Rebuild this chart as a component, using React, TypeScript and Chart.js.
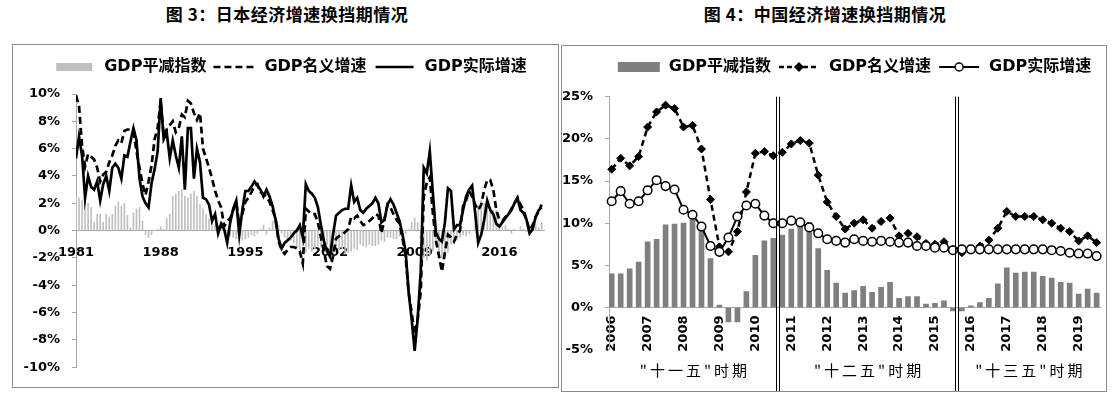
import React, { useEffect, useRef } from 'react';
import { Chart, registerables } from 'chart.js';

Chart.register(...registerables);

// ---------- Japan: quarterly, 1981Q1 .. 2019Q3 (%, YoY) ----------
const jpDeflator = [
  2.5, 2.4, 2.2, 2.1, 2.0, 1.7, 0.6, 1.2, 1.2, 0.6, 1.2, 1.0, 1.2, 1.8, 2.1, 1.8,
  2.0, 1.1, 0.2, 1.3, 1.6, 1.7, 0.7, -0.3, -0.5, -0.3, 0.0, 0.1, 0.3, 0.1, 0.9, 1.2,
  2.5, 2.7, 2.9, 3.0, 2.5, 2.4, 2.7, 2.9, 2.5, 1.9, 1.6, 1.2, 0.9, 0.6, 0.4, 0.4,
  0.3, 0.1, -0.2, -0.4, -0.5, -0.6, -0.4, -0.7, -0.6, -0.5, -0.3, -0.4, -0.2, 0.1, 0.4, -0.3,
  0.2, 0.7, 1.0, 0.4, -0.2, -0.5, -0.6, -0.7, -0.9, -1.2, -1.4, -1.1, -1.6, -1.3, -1.5, -1.3,
  -1.1, -1.2, -1.2, -1.0, -1.5, -1.6, -1.2, -1.4, -1.3, -1.7, -1.6, -1.5, -1.3, -1.4, -1.0, -1.1,
  -1.2, -1.0, -1.1, -1.1, -1.0, -0.7, -0.8, -0.5, -0.5, -0.6, -0.6, -0.4, -0.4, -0.2, 0.1, 0.6,
  0.9, 0.6, -0.6, -2.0, -2.2, -1.8, -1.5, -0.7, -2.0, -2.0, -1.9, -1.6, -1.0, -0.9, -0.7, -0.5,
  -0.3, -0.4, -0.2, 0.0, 0.5, 1.8, 2.2, 2.0, 2.2, 1.6, 1.5, 1.5, 0.4, 0.3, 0.4, 0.1,
  -0.2, 0.1, 0.0, 0.3, 0.1, -0.1, 0.1, 0.3, 0.5, 0.2, 0.6,
];
const jpNominal = [
  9.9, 9.1, 6.2, 4.7, 5.6, 5.4, 5.2, 4.6, 3.6, 4.1, 4.3, 5.0, 5.5, 6.2, 6.6, 6.4,
  7.3, 7.4, 7.4, 7.3, 5.8, 4.6, 3.4, 2.6, 3.6, 4.8, 6.7, 7.5, 9.5, 6.9, 7.4, 7.7,
  8.0, 7.2, 7.5, 8.5, 8.3, 9.5, 9.3, 8.6, 8.1, 8.6, 6.0, 5.3, 4.6, 3.8, 2.9, 2.2,
  1.7, 0.3, 0.7, 0.9, 1.5, 2.1, 0.4, 1.2, 2.1, 2.4, 2.8, 3.3, 3.4, 2.8, 2.7, 2.5,
  2.1, 1.5, 0.9, -0.8, -1.4, -1.7, -1.4, -1.2, -1.2, -1.3, -1.5, -2.4, 1.6, 1.4, 1.2, 1.2,
  0.6, -0.5, -1.5, -2.6, -2.8, -1.9, -0.6, -0.4, -0.3, -0.1, 0.1, 1.0, 0.9, 1.1, 0.7, 0.4,
  0.5, 0.7, 0.9, 1.2, 1.1, -0.2, 0.8, 1.9, 1.7, 1.2, 0.8, 0.5, -0.6, -1.9, -4.5, -6.0,
  -7.6, -6.5, -4.5, 2.5, 3.5, 3.9, 1.3, -0.7, -1.8, -3.0, -1.6, -0.3, -0.5, -0.8, -0.3, 0.0,
  1.8, 2.2, 2.9, 2.5, 1.9, 1.5, 1.9, 3.0, 3.7, 3.7, 3.0, 1.5, 0.8, 0.7, 1.0, 1.2,
  1.6, 2.0, 2.4, 1.9, 1.5, 0.8, 0.0, 0.4, 1.0, 1.4, 1.9,
];
const jpReal = [
  5.3, 6.9, 5.5, 2.4, 4.0, 3.2, 3.0, 3.6, 2.2, 3.4, 4.0, 2.9, 4.6, 4.9, 4.6, 3.8,
  5.5, 5.4, 6.5, 7.5, 6.6, 3.8, 2.5, 2.0, 1.7, 3.5, 4.5, 5.8, 9.7, 6.7, 7.2, 5.3,
  6.6, 5.5, 4.6, 6.9, 3.0, 7.5, 7.5, 3.8, 6.0, 5.0, 2.4, 2.3, 1.9, 0.7, 1.2, -0.2,
  0.5, 0.1, -0.9, 0.6, 1.6, 2.2, -0.3, 1.5, 2.9, 2.9, 3.2, 3.6, 3.3, 3.0, 2.5, 3.0,
  2.5, 1.8, 0.8, -0.6, -1.3, -0.9, -0.7, -0.5, -0.2, 0.0, 0.4, -0.5, 3.4, 2.9, 2.7, 2.4,
  1.7, 0.4, -0.8, -1.5, -1.9, -0.3, 1.1, 1.3, 1.5, 1.6, 1.6, 3.3, 2.1, 2.4, 1.5, 1.3,
  1.6, 1.8, 2.0, 2.4, 2.0, 0.6, 0.8, 1.9, 2.3, 1.9, 1.3, 0.7, -0.3, -1.5, -4.5, -6.5,
  -8.8, -6.4, -3.0, 4.6, 4.2, 5.8, 2.8, -0.1, -0.6, -0.8, 0.6, 3.1, 2.9, 0.1, 0.4, 0.4,
  1.5, 2.5, 3.0, 3.3, 1.3, -0.9, -0.3, 0.8, 2.2, 1.5, 1.2, 0.5, 0.3, 0.6, 0.9, 1.2,
  1.5, 2.0, 2.4, 1.5, 1.3, 0.8, -0.2, 0.1, 1.0, 1.5, 1.7,
];
const jpTickIndex = [0, 28, 56, 84, 112, 140];
const jpTickLabels = ['1981', '1988', '1995', '2002', '2009', '2016'];
const jpSeriesNames = ['GDP平减指数', 'GDP名义增速', 'GDP实际增速'];

// ---------- China: quarterly, 2006Q1 .. 2019Q3 (%, YoY) ----------
const cnDeflator = [
  4.0, 4.0, 4.6, 5.4, 7.8, 8.1, 9.8, 9.9, 10.0, 10.6,
  9.2, 5.8, 0.3, -1.7, -1.7, 1.9, 6.2, 7.9, 8.2, 8.6,
  9.3, 9.8, 10.1, 7.0, 4.4, 2.9, 1.7, 2.0, 2.5, 1.8,
  2.4, 3.0, 1.1, 1.3, 1.3, 0.4, 0.5, 0.8, -0.4, -0.4,
  0.2, 0.6, 1.1, 2.8, 4.7, 4.1, 4.2, 4.2, 3.7, 3.5,
  3.0, 2.9, 1.6, 2.2, 1.7,
];
const cnNominal = [
  16.4, 17.7, 16.8, 17.9, 21.4, 23.2, 24.0, 23.6, 21.4, 21.6,
  18.8, 12.8, 7.2, 6.6, 9.0, 13.7, 18.3, 18.5, 18.0, 18.4,
  19.4, 19.8, 19.5, 15.7, 12.5, 10.8, 9.3, 10.0, 10.4, 9.4,
  10.2, 10.6, 8.5, 8.8, 8.4, 7.6, 7.5, 7.8, 6.9, 6.5,
  6.9, 7.3, 8.0, 9.4, 11.4, 10.8, 10.8, 10.8, 10.4, 10.0,
  9.4, 9.0, 7.9, 8.5, 7.7,
];
const cnReal = [
  12.6, 13.8, 12.3, 12.6, 13.9, 15.1, 14.4, 14.0, 11.6, 11.0,
  9.6, 7.3, 6.6, 8.3, 10.8, 12.1, 12.3, 10.9, 10.0, 10.0,
  10.3, 10.1, 9.5, 8.8, 8.1, 7.9, 7.7, 8.1, 7.9, 7.8,
  7.9, 7.8, 7.7, 7.7, 7.3, 7.3, 7.1, 7.1, 6.8, 6.9,
  6.9, 6.9, 6.9, 6.9, 6.9, 6.9, 6.9, 6.9, 6.9, 6.8,
  6.7, 6.5, 6.4, 6.4, 6.1,
];
const cnTickIndex = [0, 4, 8, 12, 16, 20, 24, 28, 32, 36, 40, 44, 48, 52];
const cnTickLabels = ['2006', '2007', '2008', '2009', '2010', '2011', '2012', '2013', '2014', '2015', '2016', '2017', '2018', '2019'];
const cnSeriesNames = ['GDP平减指数', 'GDP名义增速', 'GDP实际增速'];
const cnPeriodBreaks = [18.5, 38.5];
const cnPeriodLabels = ['"十一五"时期', '"十二五"时期', '"十三五"时期'];

const TICK_FONT = '"DejaVu Sans", sans-serif';
const LEGEND_FONT = '"DejaVu Sans", "Noto Sans CJK SC", sans-serif';

function makeSwatch(draw: (c: CanvasRenderingContext2D) => void, w = 44, h = 14) {
  const cv = document.createElement('canvas');
  cv.width = w;
  cv.height = h;
  const c = cv.getContext('2d') as CanvasRenderingContext2D;
  draw(c);
  return cv;
}

function legendShift(dx: number, dy: number) {
  return {
    id: 'legendShift',
    afterLayout(chart: any) {
      const l = chart.legend;
      if (l) {
        l.top -= dy;
        l.bottom -= dy;
        l.left += dx;
        l.right += dx;
      }
    },
  };
}

function legendOptions(names: string[], swatches: HTMLCanvasElement[]) {
  return {
    display: true,
    position: 'top',
    onClick: () => {},
    labels: {
      usePointStyle: true,
      pointStyleWidth: 44,
      boxHeight: 14,
      padding: 6,
      color: '#000',
      font: { family: LEGEND_FONT, size: 16, weight: 'bold' },
      generateLabels: () =>
        names.map((text, i) => ({
          text,
          pointStyle: swatches[i],
          fillStyle: 'rgba(0,0,0,0)',
          strokeStyle: 'rgba(0,0,0,0)',
          lineWidth: 0,
          hidden: false,
          datasetIndex: i,
          fontColor: '#000',
        })),
    },
  };
}

function jpConfig(): any {
  const swatches = [
    makeSwatch((c) => {
      c.fillStyle = '#bfbfbf';
      c.fillRect(4, 3, 36, 8);
    }),
    makeSwatch((c) => {
      c.strokeStyle = '#000';
      c.lineWidth = 2.5;
      c.setLineDash([7, 4]);
      c.beginPath();
      c.moveTo(1, 7);
      c.lineTo(44, 7);
      c.stroke();
    }),
    makeSwatch((c) => {
      c.strokeStyle = '#000';
      c.lineWidth = 2.5;
      c.beginPath();
      c.moveTo(3, 7);
      c.lineTo(41, 7);
      c.stroke();
    }),
  ];
  return {
    type: 'bar',
    data: {
      datasets: [
        {
          type: 'bar',
          label: jpSeriesNames[0],
          data: jpDeflator.map((v, i) => ({ x: i, y: v })),
          backgroundColor: '#c0c0c0',
          barThickness: 1,
          order: 3,
        },
        {
          type: 'line',
          label: jpSeriesNames[1],
          data: jpNominal.map((v, i) => ({ x: i, y: v })),
          borderColor: '#000',
          borderWidth: 2.7,
          borderDash: [7, 4],
          pointRadius: 0,
          tension: 0,
          fill: false,
          order: 2,
        },
        {
          type: 'line',
          label: jpSeriesNames[2],
          data: jpReal.map((v, i) => ({ x: i, y: v })),
          borderColor: '#000',
          borderWidth: 2.7,
          pointRadius: 0,
          tension: 0,
          fill: false,
          order: 1,
        },
      ],
    },
    options: {
      animation: false,
      responsive: false,
      devicePixelRatio: 1,
      events: [],
      layout: { padding: { top: 17, left: 0, right: 13.3, bottom: 14 } },
      plugins: {
        legend: legendOptions(jpSeriesNames, swatches),
        tooltip: { enabled: false },
      },
      scales: {
        x: {
          type: 'linear',
          min: 0,
          max: 155,
          offset: false,
          position: { y: 0 },
          grid: { display: false, drawTicks: false, offset: false },
          border: { display: true, color: '#a6a6a6', width: 1 },
          afterBuildTicks: (s: any) => {
            s.ticks = jpTickIndex.map((v) => ({ value: v }));
          },
          ticks: {
            autoSkip: false,
            maxRotation: 0,
            minRotation: 0,
            padding: 14,
            color: '#000',
            font: { family: TICK_FONT, size: 13, weight: 'bold' },
            callback: (_v: any, i: number) => jpTickLabels[i],
          },
        },
        y: {
          min: -10,
          max: 10,
          ticks: {
            stepSize: 2,
            padding: 12,
            color: '#000',
            font: { family: TICK_FONT, size: 13, weight: 'bold' },
            callback: (v: any) => v + '%',
          },
          grid: { display: true, drawOnChartArea: false, drawTicks: true, tickLength: 4, color: '#a6a6a6' },
          border: { display: true, color: '#a6a6a6', width: 1 },
          afterFit: (s: any) => {
            s.width = 63;
          },
        },
      },
    },
    plugins: [legendShift(10.6, 9)],
  };
}

const periodPlugin = {
  id: 'periods',
  afterDatasetsDraw(chart: any) {
    const { ctx, chartArea } = chart;
    const xs = chart.scales.x;
    ctx.save();
    ctx.strokeStyle = '#000';
    ctx.lineWidth = 1;
    cnPeriodBreaks.forEach((b) => {
      const px = Math.round(xs.getPixelForValue(b));
      [-1.5, 1.5].forEach((d) => {
        ctx.beginPath();
        ctx.moveTo(px + d, chartArea.top);
        ctx.lineTo(px + d, chart.height);
        ctx.stroke();
      });
    });
    const edges = [xs.left, ...cnPeriodBreaks.map((b) => xs.getPixelForValue(b)), xs.right];
    ctx.fillStyle = '#000';
    ctx.font = '15px "Noto Sans CJK SC", sans-serif';
    try {
      (ctx as any).letterSpacing = '3px';
    } catch (e) {}
    ctx.textAlign = 'center';
    ctx.textBaseline = 'middle';
    cnPeriodLabels.forEach((t, i) => {
      ctx.fillText(t, (edges[i] + edges[i + 1]) / 2 + 1.5, chartArea.bottom + 20.5);
    });
    ctx.restore();
  },
};

function cnConfig(): any {
  const swatches = [
    makeSwatch((c) => {
      c.fillStyle = '#7f7f7f';
      c.fillRect(1, 2, 42, 10);
    }),
    makeSwatch((c) => {
      c.strokeStyle = '#000';
      c.lineWidth = 2.5;
      c.setLineDash([5, 3]);
      c.beginPath();
      c.moveTo(2, 7);
      c.lineTo(42, 7);
      c.stroke();
      c.setLineDash([]);
      c.fillStyle = '#000';
      c.beginPath();
      c.moveTo(22, 2);
      c.lineTo(27, 7);
      c.lineTo(22, 12);
      c.lineTo(17, 7);
      c.closePath();
      c.fill();
    }),
    makeSwatch((c) => {
      c.strokeStyle = '#000';
      c.lineWidth = 2;
      c.beginPath();
      c.moveTo(2, 7);
      c.lineTo(42, 7);
      c.stroke();
      c.fillStyle = '#fff';
      c.lineWidth = 1.5;
      c.beginPath();
      c.arc(22, 7, 4, 0, Math.PI * 2);
      c.fill();
      c.stroke();
    }),
  ];
  return {
    type: 'bar',
    data: {
      datasets: [
        {
          type: 'bar',
          label: cnSeriesNames[0],
          data: cnDeflator.map((v, i) => ({ x: i, y: v })),
          backgroundColor: '#7f7f7f',
          barThickness: 5,
          order: 3,
        },
        {
          type: 'line',
          label: cnSeriesNames[1],
          data: cnNominal.map((v, i) => ({ x: i, y: v })),
          borderColor: '#000',
          borderWidth: 2.5,
          borderDash: [6, 4],
          pointStyle: 'rectRot',
          pointRadius: 4,
          pointBackgroundColor: '#000',
          pointBorderColor: '#000',
          pointBorderWidth: 1,
          tension: 0,
          fill: false,
          clip: false,
          order: 2,
        },
        {
          type: 'line',
          label: cnSeriesNames[2],
          data: cnReal.map((v, i) => ({ x: i, y: v })),
          borderColor: '#000',
          borderWidth: 2,
          pointStyle: 'circle',
          pointRadius: 4.3,
          pointBackgroundColor: '#fff',
          pointBorderColor: '#000',
          pointBorderWidth: 1.5,
          tension: 0,
          fill: false,
          clip: false,
          order: 1,
        },
      ],
    },
    options: {
      animation: false,
      responsive: false,
      devicePixelRatio: 1,
      events: [],
      layout: { padding: { top: 18.7, left: 0, right: 1, bottom: 41.3 } },
      plugins: {
        legend: legendOptions(cnSeriesNames, swatches),
        tooltip: { enabled: false },
      },
      scales: {
        x: {
          type: 'linear',
          min: -0.3,
          max: 54.4,
          offset: false,
          position: { y: 0 },
          grid: { display: false, drawTicks: false, offset: false },
          border: { display: true, color: '#a6a6a6', width: 1 },
          afterBuildTicks: (s: any) => {
            s.ticks = cnTickIndex.map((v) => ({ value: v }));
          },
          ticks: {
            autoSkip: false,
            maxRotation: 90,
            minRotation: 90,
            padding: 8,
            color: '#000',
            font: { family: TICK_FONT, size: 13, weight: 'bold' },
            callback: (_v: any, i: number) => cnTickLabels[i],
          },
        },
        y: {
          min: -5,
          max: 25,
          ticks: {
            stepSize: 5,
            padding: 12,
            color: '#000',
            font: { family: TICK_FONT, size: 13, weight: 'bold' },
            callback: (v: any) => v + '%',
          },
          grid: { display: true, drawOnChartArea: false, drawTicks: true, tickLength: 4, color: '#a6a6a6' },
          border: { display: true, color: '#a6a6a6', width: 1 },
          afterFit: (s: any) => {
            s.width = 47;
          },
        },
      },
    },
    plugins: [legendShift(20.5, 11.7), periodPlugin],
  };
}

const titleStyle: React.CSSProperties = {
  position: 'absolute',
  top: 3,
  width: 300,
  textAlign: 'center',
  fontFamily: '"Noto Sans CJK SC", sans-serif',
  fontWeight: 700,
  fontSize: 17,
  letterSpacing: '0.5px',
  lineHeight: '22px',
  color: '#000',
  whiteSpace: 'nowrap',
};

export default function App() {
  const jpRef = useRef<HTMLCanvasElement>(null);
  const cnRef = useRef<HTMLCanvasElement>(null);

  useEffect(() => {
    const jp = new Chart(jpRef.current as HTMLCanvasElement, jpConfig());
    const cn = new Chart(cnRef.current as HTMLCanvasElement, cnConfig());
    return () => {
      jp.destroy();
      cn.destroy();
    };
  }, []);

  return (
    <div style={{ position: 'absolute', left: 0, top: 0, width: 1119, height: 395, background: '#fff', overflow: 'hidden' }}>
      <div style={{ ...titleStyle, left: 137 }}>图 3：日本经济增速换挡期情况</div>
      <div style={{ ...titleStyle, left: 675 }}>图 4：中国经济增速换挡期情况</div>
      <div
        style={{
          position: 'absolute',
          left: 12,
          top: 44,
          width: 547,
          height: 344,
          boxSizing: 'border-box',
          border: '1px solid #8c8c8c',
        }}
      >
        <canvas ref={jpRef} width={545} height={342} style={{ display: 'block', width: 545, height: 342 }} />
      </div>
      <div
        style={{
          position: 'absolute',
          left: 561,
          top: 45,
          width: 546,
          height: 347,
          boxSizing: 'border-box',
          border: '1px solid #8c8c8c',
        }}
      >
        <canvas ref={cnRef} width={544} height={345} style={{ display: 'block', width: 544, height: 345 }} />
      </div>
    </div>
  );
}
